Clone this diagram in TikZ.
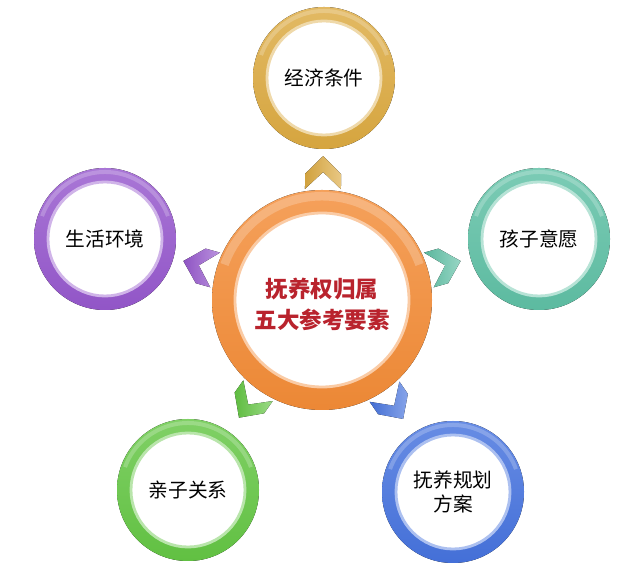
\documentclass[tikz,border=0pt]{standalone}
\usepackage{fontspec}
\newfontfamily\cjk{Noto Sans CJK SC}
\usetikzlibrary{positioning,calc}

\definecolor{hubcol}{RGB}{243,140,55}
\definecolor{goldcol}{RGB}{220,170,65}
\definecolor{tealcol}{RGB}{95,192,165}
\definecolor{purplecol}{RGB}{150,88,205}
\definecolor{greencol}{RGB}{100,198,68}
\definecolor{bluecol}{RGB}{70,115,222}
\definecolor{hubtext}{RGB}{185,35,45}

\tikzset{
  pics/ring/.style n args={3}{code={
    \fill[top color=#1!82!white,bottom color=#1!97!black] (0,0) circle (#2);
    \fill[white,opacity=0.22] (20:#2-2) arc (20:160:#2-2) -- (160:{(#2+#3)/2+1}) arc (160:20:{(#2+#3)/2+1}) -- cycle;
    \fill[white] (0,0) circle (#3);
    \draw[#1!45!white,line width=2pt] (0,0) circle (#3);
  }},
  pics/chevron/.style={code={
    \fill[left color=#1!95!black,right color=#1!65!white] (0,17) -- (-18,-1) -- (-18,-16) -- (0,1) -- (18,-16) -- (18,-1) -- cycle;
  }},
  label/.style={font=\cjk\fontsize{14}{17}\selectfont,align=center},
}

\begin{document}
\begin{tikzpicture}[x=0.025cm,y=0.025cm]
   \useasboundingbox (0,0) rectangle (638,571);

   % hub and the five factors
   \coordinate (hub) at (322,271);
   \coordinate (econ) at (324,493);
   \coordinate (wish) at (539,332);
   \coordinate (life) at (105,332);
   \coordinate (parent) at (188,81);
   \coordinate (plan) at (453,79);

   \pic at (hub) {ring={hubcol}{110}{87}};
   \pic at (econ) {ring={goldcol}{71}{57}};
   \pic at (wish) {ring={tealcol}{71}{57}};
   \pic at (life) {ring={purplecol}{71}{57}};
   \pic at (parent) {ring={greencol}{71}{57}};
   \pic at (plan) {ring={bluecol}{71}{57}};

   \node[font=\cjk\bfseries\fontsize{16}{22}\selectfont,text=hubtext,align=center] at ($(hub)+(0,-4)$) (hubtxt) {抚养权归属\\五大参考要素};
   \node[label] at (econ) (econtxt) {经济条件};
   \node[label] at (wish) (wishtxt) {孩子意愿};
   \node[label] at (life) (lifetxt) {生活环境};
   \node[label] at (parent) (parenttxt) {亲子关系};
   \node[label] at (plan) (plantxt) {抚养规划\\方案};

   % arrows pointing outwards
   \foreach \ang/\col in {89.5/goldcol,15.7/tealcol,164.3/purplecol,234.8/greencol,304.3/bluecol}
      \pic[rotate=\ang-90] at ($(hub)+(\ang:127)$) {chevron=\col};
\end{tikzpicture}
\end{document}
